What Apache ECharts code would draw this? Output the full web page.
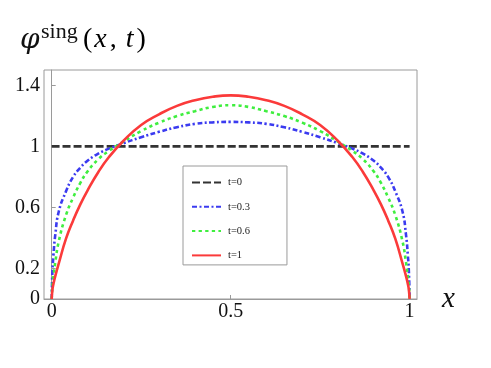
<!DOCTYPE html>
<html>
<head>
<meta charset="utf-8">
<script src="https://cdn.jsdelivr.net/npm/echarts@6/dist/echarts.min.js"></script>
<style>
  html, body { margin: 0; padding: 0; background: #fff; }
  #chart { width: 491px; height: 368px; }
</style>
</head>
<body>
<div id="chart"></div>
<script>
// x positions shared by the curved series
const xs = [0, 0.002, 0.005, 0.01, 0.02, 0.04, 0.06, 0.08, 0.1, 0.13, 0.16, 0.2, 0.25, 0.3, 0.35, 0.4, 0.45,
    0.5, 0.55, 0.6, 0.65, 0.7, 0.75, 0.8, 0.84, 0.87, 0.9, 0.92, 0.94, 0.96, 0.98, 0.99, 0.995, 0.998, 1];

// t=0 is flat
const xsFlat = [0, 1];
const phiT0 = [1, 1];

const phiT03 = [0, 0.18, 0.29, 0.42, 0.575, 0.705, 0.80, 0.86, 0.905, 0.952, 0.985, 1.02, 1.06, 1.095, 1.125, 1.147, 1.157,
    1.16, 1.157, 1.147, 1.125, 1.095, 1.06, 1.02, 0.985, 0.952, 0.905, 0.86, 0.80, 0.705, 0.575, 0.42, 0.29, 0.18, 0];

const phiT06 = [0, 0.09, 0.15, 0.24, 0.38, 0.55, 0.665, 0.76, 0.835, 0.915, 0.97, 1.03, 1.10, 1.155, 1.198, 1.23, 1.258,
    1.269, 1.258, 1.23, 1.198, 1.155, 1.10, 1.03, 0.97, 0.915, 0.835, 0.76, 0.665, 0.55, 0.38, 0.24, 0.15, 0.09, 0];

const phiT1 = [0, 0.06, 0.10, 0.15, 0.235, 0.395, 0.515, 0.62, 0.71, 0.83, 0.93, 1.035, 1.14, 1.21, 1.265, 1.302, 1.325,
    1.334, 1.325, 1.302, 1.265, 1.21, 1.14, 1.035, 0.93, 0.83, 0.71, 0.62, 0.515, 0.395, 0.235, 0.15, 0.10, 0.06, 0];

const seriesNames = ['t=0', 't=0.3', 't=0.6', 't=1'];
const xTicks = [0, 0.5, 1];
const yTicks = [0, 0.2, 0.6, 1, 1.4];

const zip = (a, b) => a.map((v, i) => [v, b[i]]);

const serif = '"Liberation Serif", "DejaVu Serif", serif';
const chart = echarts.init(document.getElementById('chart'), null, {renderer: 'canvas'});

const lineSeries = (name, data, color, type) => ({
    name: name,
    type: 'line',
    data: data,
    symbol: 'none',
    smooth: 0.5,
    clip: false,
    lineStyle: {color: color, width: 2.6, type: type},
    itemStyle: {color: color},
});

chart.setOption({
    animation: false,
    grid: {
        left: 44, top: 70, right: 74, bottom: 69,
        show: true, borderColor: '#9a9a9a', borderWidth: 1
    },
    xAxis: {
        type: 'value',
        min: -0.0215, max: 1.0207,
        name: 'x',
        nameLocation: 'end',
        nameGap: 25,
        nameTextStyle: {
            fontFamily: serif, fontStyle: 'italic', fontSize: 29, color: '#111',
            align: 'left', verticalAlign: 'middle', padding: [0, 0, 22, 0]
        },
        axisLine: {lineStyle: {color: '#9a9a9a', width: 1}},
        axisTick: {inside: true, length: 4, lineStyle: {color: '#9a9a9a'}, customValues: xTicks},
        axisLabel: {fontFamily: serif, fontSize: 20, color: '#111', margin: 3, customValues: xTicks},
        splitLine: {show: false}
    },
    yAxis: {
        type: 'value',
        min: 0, max: 1.5,
        axisLine: {show: true, lineStyle: {color: '#9a9a9a', width: 1}},
        axisTick: {show: true, inside: true, length: 4, lineStyle: {color: '#9a9a9a'}, customValues: yTicks},
        axisLabel: {fontFamily: serif, fontSize: 20, color: '#111', margin: 4, customValues: yTicks},
        splitLine: {show: false}
    },
    legend: {
        data: seriesNames,
        orient: 'vertical',
        left: 183, top: 166,
        padding: [11, 37, 4, 8],
        itemWidth: 29, itemHeight: 12, itemGap: 13.3,
        itemStyle: {opacity: 0},
        borderColor: '#9a9a9a', borderWidth: 1,
        textStyle: {fontFamily: serif, fontSize: 10.5, color: '#222', padding: [0, 0, 0, 2]}
    },
    graphic: [
        {type: 'text', x: 20, y: 41, style: {text: 'φ', font: 'italic 28px "DejaVu Serif"', fill: '#111', verticalAlign: 'middle'}},
        {type: 'text', x: 41, y: 32, style: {text: 'sing', font: '22px "Liberation Serif"', fill: '#111', verticalAlign: 'middle'}},
        {type: 'text', x: 82, y: 40, style: {
            text: '{n|(}{i|x}{n|, }{i|t}{n|)}',
            verticalAlign: 'middle',
            rich: {
                n: {fontFamily: 'Liberation Serif', fontSize: 28, color: '#111', padding: [0, 1, 0, 1]},
                i: {fontFamily: 'Liberation Serif', fontStyle: 'italic', fontSize: 28, color: '#111', padding: [0, 2, 0, 1]}
            }
        }}
    ],
    series: [
        lineSeries(seriesNames[0], zip(xsFlat, phiT0), '#333333', [8, 3]),
        lineSeries(seriesNames[1], zip(xs, phiT03), '#3b3bf0', [5, 2.5, 2, 2.5]),
        lineSeries(seriesNames[2], zip(xs, phiT06), '#3fee3f', [3.3, 3.3]),
        lineSeries(seriesNames[3], zip(xs, phiT1), '#fb3a3a', 'solid')
    ]
});
</script>
</body>
</html>
